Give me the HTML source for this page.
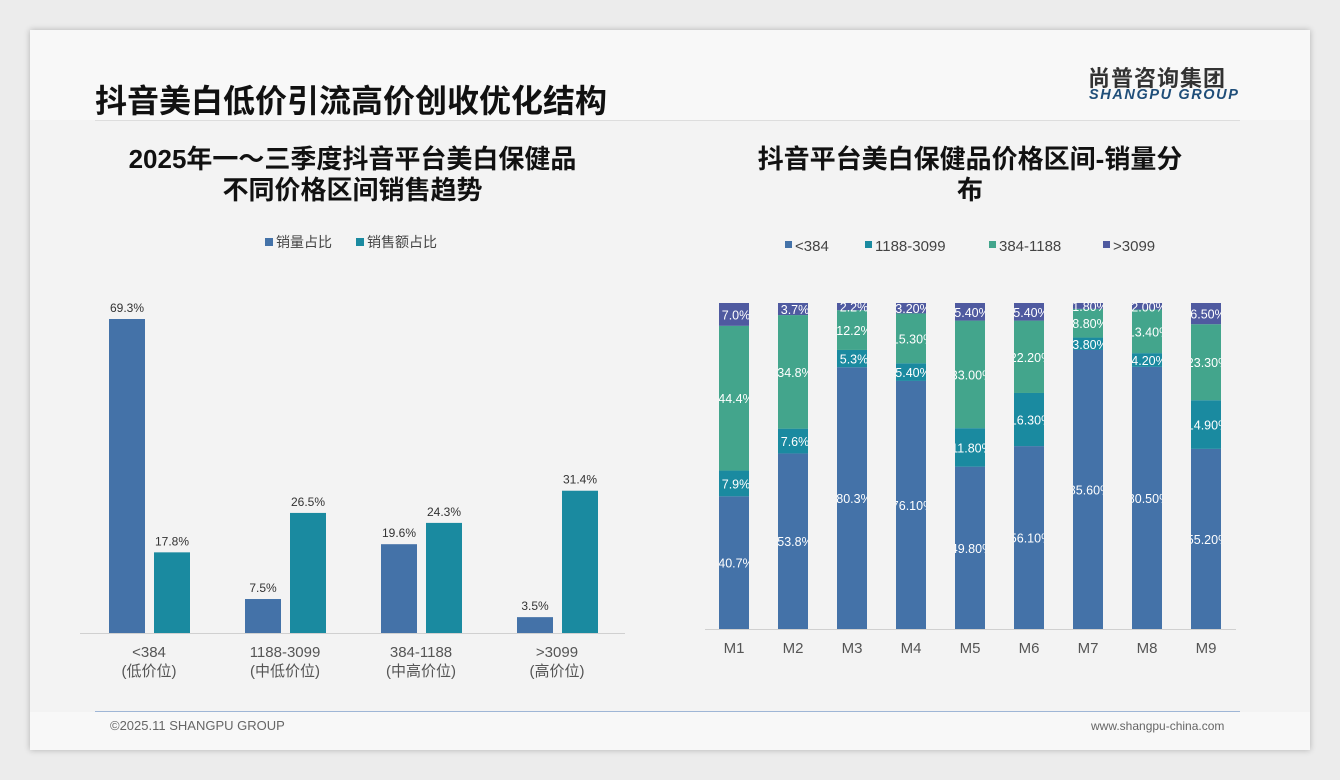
<!DOCTYPE html>
<html><head><meta charset="utf-8">
<style>
body{margin:0;width:1340px;height:780px;background:#ececec;font-family:"Liberation Sans","Noto Sans CJK SC",sans-serif;position:relative;overflow:hidden}
.card{position:absolute;left:30px;top:30px;width:1280px;height:720px;background:#f3f3f3;box-shadow:0 0 6px rgba(0,0,0,.25)}
.abs{position:absolute}
</style></head><body>
<div class="card"></div>
<div class="abs" style="left:30px;top:30px;width:1280px;height:90px;background:#f8f8f8"></div>
<div class="abs" style="left:30px;top:712px;width:1280px;height:38px;background:#f8f8f8"></div>
<div class="abs" style="left:95px;top:76px;font-size:32px;font-weight:bold;color:#111">抖音美白低价引流高价创收优化结构</div>
<div class="abs" style="left:1088px;top:61px;font-size:22px;font-weight:bold;color:#333;letter-spacing:1px">尚普咨询集团</div>
<div class="abs" style="left:1089px;top:87px;font-size:14.5px;font-weight:bold;font-style:italic;color:#1f4e79;letter-spacing:1.6px">SHANGPU GROUP</div>
<div class="abs" style="left:95px;top:120px;width:1145px;height:1px;background:#ddd"></div>
<div class="abs" style="left:95px;top:711px;width:1145px;height:1px;background:#9fb6d6"></div>
<div class="abs" style="left:110px;top:718px;font-size:13px;color:#666">©2025.11 SHANGPU GROUP</div>
<div class="abs" style="left:1091px;top:719px;font-size:12px;color:#666">www.shangpu-china.com</div>
<div class="abs" style="left:70px;top:144px;width:565px;text-align:center;font-size:26px;font-weight:bold;line-height:31px;color:#111">2025年一～三季度抖音平台美白保健品<br>不同价格区间销售趋势</div>
<div class="abs" style="left:690px;top:144px;width:560px;text-align:center;font-size:26px;font-weight:bold;line-height:31px;color:#111">抖音平台美白保健品价格区间-销量分<br>布</div>
<svg class="abs" style="left:0;top:0" width="1340" height="780" id="svg"></svg>
<script>
const leftCats=["<384","1188-3099","384-1188",">3099"];
const leftSub=["(低价位)","(中低价位)","(中高价位)","(高价位)"];
const volShare=[69.3,7.5,19.6,3.5];
const salesShare=[17.8,26.5,24.3,31.4];
const months=["M1","M2","M3","M4","M5","M6","M7","M8","M9"];
const sLow=[40.7,53.8,80.3,76.1,49.8,56.1,85.6,80.5,55.2];
const sMidLow=[7.9,7.6,5.3,5.4,11.8,16.3,3.8,4.2,14.9];
const sMidHigh=[44.4,34.8,12.2,15.3,33.0,22.2,8.8,13.4,23.3];
const sHigh=[7.0,3.7,2.2,3.2,5.4,5.4,1.8,2.0,6.5];
const lowLbl=["40.7%","53.8%","80.3%","76.10%","49.80%","56.10%","85.60%","80.50%","55.20%"];
const mlLbl=["7.9%","7.6%","5.3%","5.40%","11.80%","16.30%","3.80%","4.20%","14.90%"];
const mhLbl=["44.4%","34.8%","12.2%","15.30%","33.00%","22.20%","8.80%","13.40%","23.30%"];
const hiLbl=["7.0%","3.7%","2.2%","3.20%","5.40%","5.40%","1.80%","2.00%","6.50%"];
const NS="http://www.w3.org/2000/svg";
const svg=document.getElementById('svg');
function mk(t,a,p){const e=document.createElementNS(NS,t);for(const k in a)e.setAttribute(k,a[k]);(p||svg).appendChild(e);return e;}
const lBase=633,lScale=314/69.3;
const ly=v=>lBase-v*lScale;
const gx=i=>149+i*136;
let ln=mk('line',{x1:80,x2:625,y1:lBase+0.5,y2:lBase+0.5,stroke:'#d0d0d0'});

[["销量占比","#4472a8",265],["销售额占比","#1a8aa0",356]].forEach(([t,c,x])=>{
 const r=mk('rect',{x:x,y:238,width:8,height:8,fill:c});
 
 const tx=mk('text',{x:x+11,y:247,'font-size':14,fill:'#444'});tx.textContent=t;
 
});
leftCats.forEach((c,i)=>{
 const x=gx(i);
 [[volShare[i],'#4472a8',x-40],[salesShare[i],'#1a8aa0',x+5]].forEach(([v,col,bx],k)=>{
  const b=mk('rect',{x:bx,y:ly(v),width:36,height:v*lScale,fill:col});
  
  
  const t=mk('text',{x:bx+18,y:ly(v)-7,'text-anchor':'middle','font-size':12,fill:'#333'});t.textContent=v.toFixed(1)+'%';
  
 });
 const t1=mk('text',{x:x,y:657,'text-anchor':'middle','font-size':15,fill:'#555'});t1.textContent=c;
 
 const t2=mk('text',{x:x,y:676,'text-anchor':'middle','font-size':15,fill:'#555'});t2.textContent=leftSub[i];
 
});
const rTop=303,rBot=629,rH=rBot-rTop;
const mx=i=>734+i*59;
const bw=30;
let ln2=mk('line',{x1:705,x2:1236,y1:rBot+0.5,y2:rBot+0.5,stroke:'#d0d0d0'});

const series=[[sLow,lowLbl,'#4472a8','<384'],[sMidLow,mlLbl,'#1a8aa0','1188-3099'],[sMidHigh,mhLbl,'#43a58c','384-1188'],[sHigh,hiLbl,'#4f5aa0','>3099']];
const legX=[786,866,990,1104];
series.forEach((s,k)=>{
 const r=mk('rect',{x:legX[k]-1,y:241,width:7,height:7,fill:s[2]});
 
 const t=mk('text',{x:legX[k]+9,y:251,'font-size':15,fill:'#444'});t.textContent=s[3];
 
});
const defs=mk('defs',{});
months.forEach((m,i)=>{
 const cp=mk('clipPath',{id:'cp'+i},defs);
 mk('rect',{x:mx(i)-bw/2,y:0,width:bw,height:780},cp);
 let acc=0;
 series.forEach((s,k)=>{
  const v=s[0][i];
  const tot=sLow[i]+sMidLow[i]+sMidHigh[i]+sHigh[i];
  const h=v/tot*rH;
  const y=rBot-acc-h;
  const b=mk('rect',{x:mx(i)-bw/2,y:y,width:bw,height:h,fill:s[2]});
  
  const t=mk('text',{x:mx(i)+2,y:y+h/2+5,'text-anchor':'middle','font-size':12.5,fill:'#fff','clip-path':'url(#cp'+i+')'});
  t.textContent=s[1][i];
  
  acc+=h;
 });
 const t=mk('text',{x:mx(i),y:653,'text-anchor':'middle','font-size':15,fill:'#555'});t.textContent=m;
 
});
</script>
</body></html>
